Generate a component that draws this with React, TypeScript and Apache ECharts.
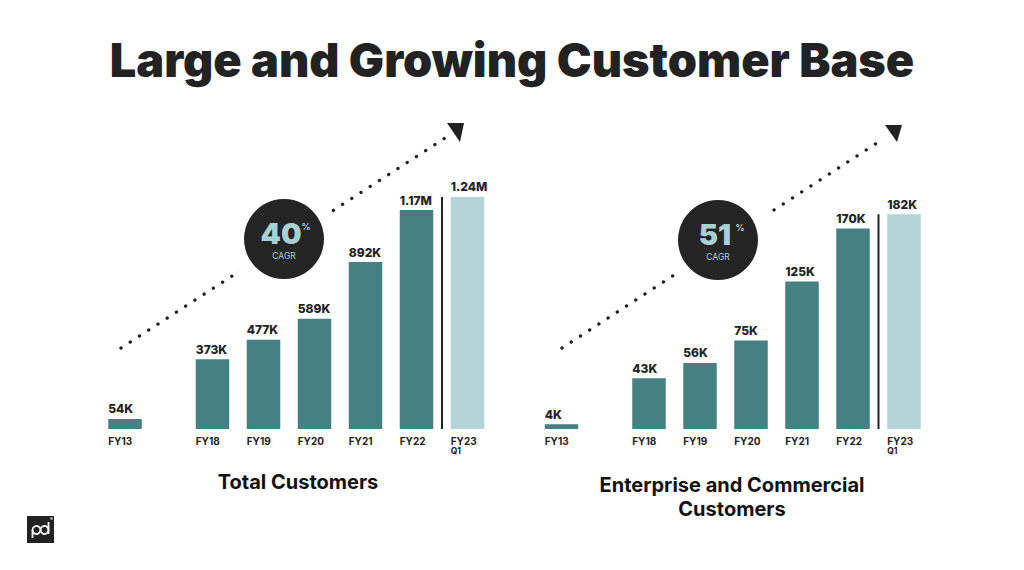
import React, { useEffect, useRef } from 'react';
import * as echarts from 'echarts';

// ---- Data ----
const earlyCategories = ['FY13'];
const mainCategories = ['FY18', 'FY19', 'FY20', 'FY21', 'FY22', 'FY23 Q1'];

// Total customers (thousands)
const totalEarly = [54];
const totalMain = [373, 477, 589, 892, 1170, 1240];
const totalEarlyLabels = ['54K'];
const totalMainLabels = ['373K', '477K', '589K', '892K', '1.17M', '1.24M'];

// Enterprise and commercial customers (thousands)
const entEarly = [4];
const entMain = [43, 56, 75, 125, 170, 182];
const entEarlyLabels = ['4K'];
const entMainLabels = ['43K', '56K', '75K', '125K', '170K', '182K'];

const cagrTotal = '40';
const cagrEnt = '51';

const TITLE = 'Large and Growing Customer Base';
const SUB_LEFT = 'Total Customers';
const SUB_RIGHT_1 = 'Enterprise and Commercial';
const SUB_RIGHT_2 = 'Customers';

// ---- Styles ----
const FONT = 'Inter, "Noto Sans", "DejaVu Sans", sans-serif';
const TEAL = '#458182';
const LIGHT = '#b3d5d7';
const DARK = '#222222';
const CIRCLE_TEXT = '#a9d1d3';
const BAR_W = 33.5;

function axisLabelFormatter(v: string) {
  const parts = v.split(' ');
  if (parts.length > 1) return `{a|${parts[0]}}\n{b|${parts[1]}}`;
  return `{a|${v}}`;
}

function makeXAxis(gridIndex: number, data: string[]) {
  return {
    type: 'category',
    gridIndex,
    data,
    axisLine: { show: false },
    axisTick: { show: false },
    splitLine: { show: false },
    axisLabel: {
      interval: 0,
      margin: 6,
      formatter: axisLabelFormatter,
      rich: {
        a: {
          width: BAR_W,
          align: 'left',
          fontFamily: FONT,
          fontSize: 10,
          fontWeight: 'bold',
          color: DARK,
          lineHeight: 11,
        },
        b: {
          width: BAR_W,
          align: 'left',
          fontFamily: FONT,
          fontSize: 8.5,
          fontWeight: 'bold',
          color: DARK,
          lineHeight: 10,
        },
      },
    },
  };
}

function makeYAxis(gridIndex: number, max: number) {
  return { type: 'value', gridIndex, min: 0, max, show: false, splitLine: { show: false } };
}

function makeSeries(idx: number, values: number[], labels: string[], lastLight: boolean) {
  return {
    type: 'bar',
    xAxisIndex: idx,
    yAxisIndex: idx,
    barWidth: BAR_W,
    data: values.map((v, i) => ({
      value: v,
      itemStyle: { color: lastLight && i === values.length - 1 ? LIGHT : TEAL },
    })),
    label: {
      show: true,
      position: 'top',
      distance: 4,
      align: 'left',
      offset: [-BAR_W / 2, 0],
      formatter: (p: any) => labels[p.dataIndex],
      fontFamily: FONT,
      fontSize: 12,
      fontWeight: 800,
      color: DARK,
    },
  };
}

function dottedArrow(id: string, x1: number, y1: number, x2: number, y2: number, tri: number[][]) {
  return [
    {
      type: 'line',
      id: id + '-line',
      z: 1,
      shape: { x1, y1, x2, y2 },
      style: { stroke: DARK, lineWidth: 3.3, lineDash: [0.1, 10.9], lineCap: 'round' },
      silent: true,
    },
    {
      type: 'polygon',
      id: id + '-head',
      z: 1,
      shape: { points: tri },
      style: { fill: DARK },
      silent: true,
    },
  ];
}

function cagrBadge(id: string, cx: number, cy: number, num: string) {
  return [
    { type: 'circle', id: id + '-halo', z: 2, shape: { cx, cy, r: 55 }, style: { fill: '#ffffff' }, silent: true },
    { type: 'circle', id: id + '-c', z: 3, shape: { cx, cy, r: 40 }, style: { fill: '#242424' }, silent: true },
    {
      type: 'text', id: id + '-num', z: 4, x: cx - 3, y: cy - 6,
      style: {
        text: num, fill: CIRCLE_TEXT, font: `900 29px ${FONT}`, lineHeight: 22,
        align: 'center', verticalAlign: 'middle',
      },
    },
    {
      type: 'text', id: id + '-pct', z: 4, x: cx + 17.5, y: cy - 13,
      style: {
        text: '%', fill: CIRCLE_TEXT, font: `bold 9px ${FONT}`, lineHeight: 9,
        align: 'left', verticalAlign: 'middle',
      },
    },
    {
      type: 'text', id: id + '-cagr', z: 4, x: cx, y: cy + 17,
      style: {
        text: 'CAGR', fill: CIRCLE_TEXT, font: `8.5px ${FONT}`, lineHeight: 9,
        align: 'center', verticalAlign: 'middle',
      },
    },
  ];
}

export default function App() {
  const ref = useRef<HTMLDivElement>(null);

  useEffect(() => {
    if (!ref.current) return;
    const chart = echarts.init(ref.current, null, { renderer: 'svg' });

    const option: any = {
      animation: false,
      backgroundColor: '#ffffff',
      grid: [
        { left: 99.5, top: 167, width: 51, height: 262, outerBoundsMode: 'none' },
        { left: 187, top: 167, width: 306, height: 262, outerBoundsMode: 'none' },
        { left: 536, top: 193, width: 51, height: 236, outerBoundsMode: 'none' },
        { left: 623.5, top: 193, width: 306, height: 236, outerBoundsMode: 'none' },
      ],
      xAxis: [
        makeXAxis(0, earlyCategories),
        makeXAxis(1, mainCategories),
        makeXAxis(2, earlyCategories),
        makeXAxis(3, mainCategories),
      ],
      yAxis: [makeYAxis(0, 1400), makeYAxis(1, 1400), makeYAxis(2, 200), makeYAxis(3, 200)],
      series: [
        makeSeries(0, totalEarly, totalEarlyLabels, false),
        makeSeries(1, totalMain, totalMainLabels, true),
        makeSeries(2, entEarly, entEarlyLabels, false),
        makeSeries(3, entMain, entMainLabels, true),
      ],
    };
    chart.setOption(option);

    // separators between FY22 and FY23 Q1, computed through the axes
    const sep = (gridIndex: number, values: number[]) => {
      const n = mainCategories.length;
      const a = chart.convertToPixel({ gridIndex } as any, [mainCategories[n - 2], 0]) as number[];
      const b = chart.convertToPixel({ gridIndex } as any, [mainCategories[n - 1], values[n - 1]]) as number[];
      const x = (a[0] + b[0]) / 2;
      return {
        type: 'line',
        id: 'sep' + gridIndex,
        z: 5,
        shape: { x1: x, y1: b[1], x2: x, y2: a[1] },
        style: { stroke: DARK, lineWidth: 2 },
        silent: true,
      };
    };

    const subStyle = (text: string) => ({
      text, fill: '#111111', font: `bold 20px ${FONT}`, align: 'center', verticalAlign: 'middle',
    });

    const graphic: any[] = [
      {
        type: 'text', id: 'title', x: 512, y: 60,
        style: { text: TITLE, fill: '#222222', font: `900 46.8px ${FONT}`, align: 'center', verticalAlign: 'middle' },
      },
      { type: 'text', id: 'subL', x: 298, y: 482, style: subStyle(SUB_LEFT) },
      { type: 'text', id: 'subR1', x: 732, y: 484.5, style: subStyle(SUB_RIGHT_1) },
      { type: 'text', id: 'subR2', x: 732, y: 508.5, style: subStyle(SUB_RIGHT_2) },
      ...dottedArrow('arL', 121, 348, 445, 138, [[447, 123], [464, 123], [460, 142]]),
      ...dottedArrow('arR', 562, 348, 883, 139, [[885, 125], [902, 125], [897, 142]]),
      ...cagrBadge('bL', 284, 239, cagrTotal),
      ...cagrBadge('bR', 718, 240, cagrEnt),
      sep(1, totalMain),
      sep(3, entMain),
      // logo
      { type: 'rect', id: 'logo-bg', shape: { x: 27, y: 516, width: 27, height: 27 }, style: { fill: '#222222' } },
      { type: 'circle', id: 'logo-p', shape: { cx: 36.5, cy: 530, r: 4 }, style: { fill: 'none', stroke: '#ffffff', lineWidth: 1.8 } },
      { type: 'line', id: 'logo-ps', shape: { x1: 32.5, y1: 530, x2: 32.5, y2: 538 }, style: { stroke: '#ffffff', lineWidth: 1.8 } },
      { type: 'circle', id: 'logo-d', shape: { cx: 44.5, cy: 530, r: 4 }, style: { fill: 'none', stroke: '#ffffff', lineWidth: 1.8 } },
      { type: 'line', id: 'logo-ds', shape: { x1: 48.5, y1: 522, x2: 48.5, y2: 534 }, style: { stroke: '#ffffff', lineWidth: 1.8 } },
      { type: 'circle', id: 'logo-r', shape: { cx: 51.5, cy: 518.5, r: 1.3 }, style: { fill: '#bbbbbb' } },
    ];
    chart.setOption({ graphic });

    return () => chart.dispose();
  }, []);

  return (
    <div
      ref={ref}
      style={{ position: 'fixed', left: 0, top: 0, width: 1024, height: 570, background: '#ffffff' }}
    />
  );
}
